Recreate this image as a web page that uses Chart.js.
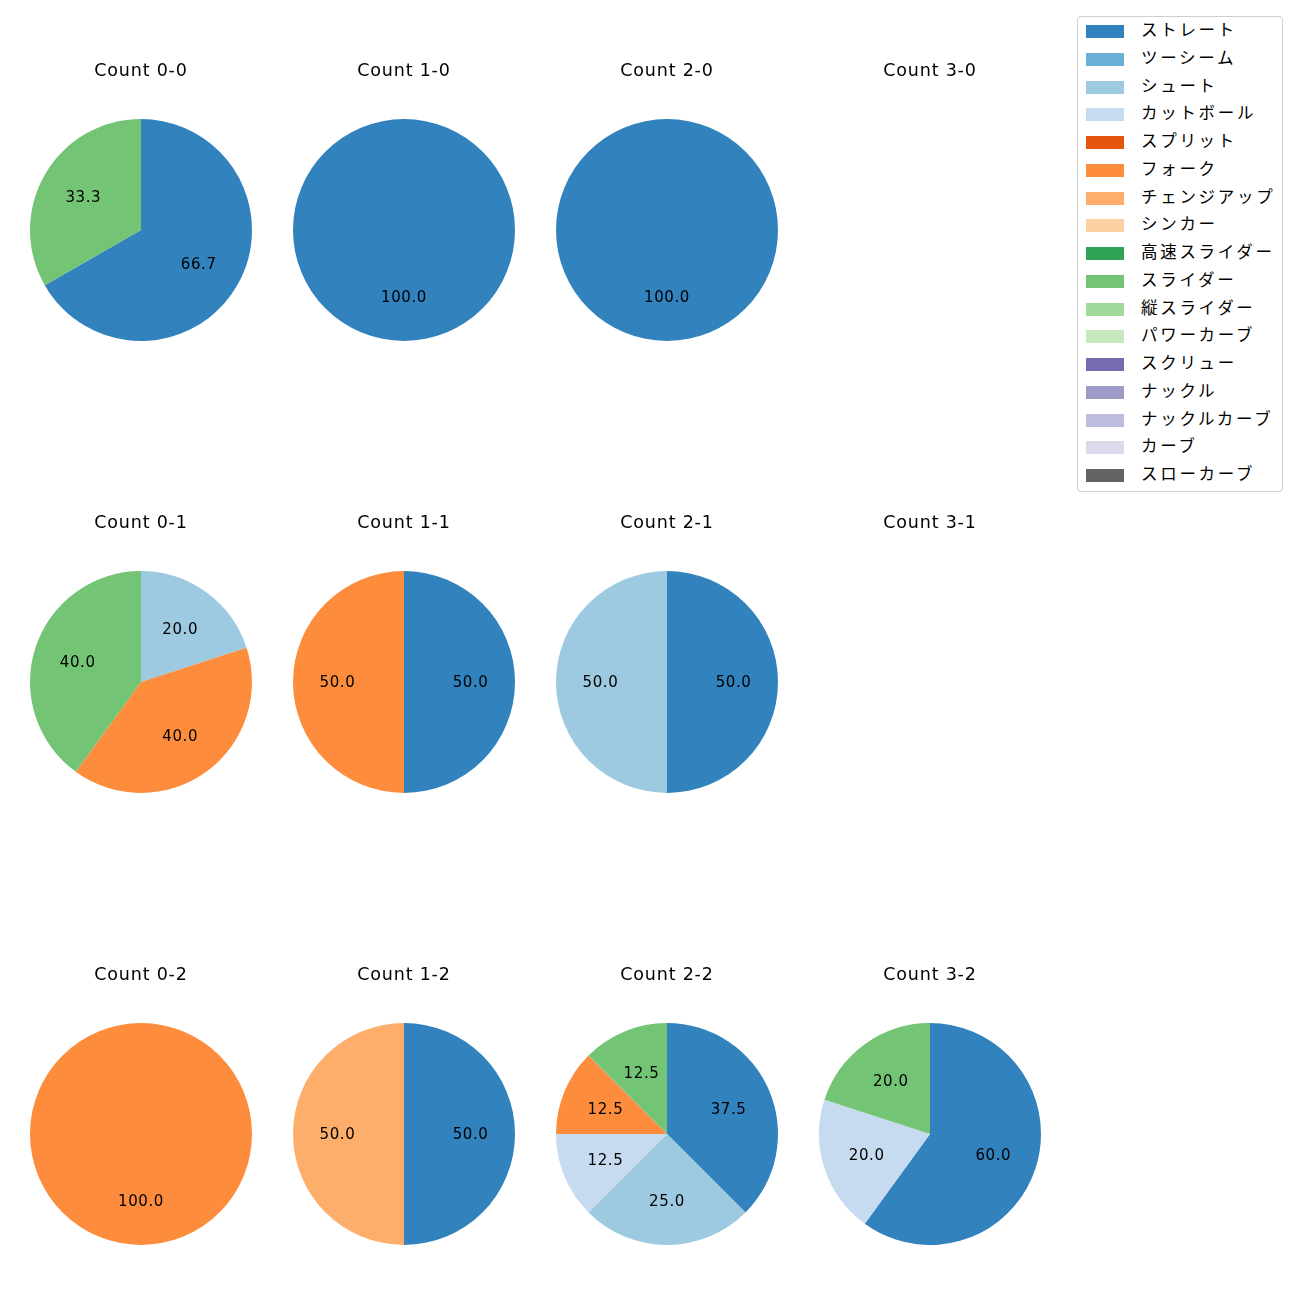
<!DOCTYPE html>
<html>
<head>
<meta charset="utf-8">
<script src="https://cdn.jsdelivr.net/npm/chart.js@4/dist/chart.umd.min.js"></script>
<style>
    body { margin: 0; background: #fff; width: 1300px; height: 1300px; position: relative; font-family: "Noto Sans CJK JP", "Noto Sans", sans-serif; }
    canvas.pie { position: absolute; }
    #legend { position: absolute; left: 1077px; top: 16px; width: 204px; height: 474px; border: 1px solid #d0d0d0; border-radius: 4px; background: #fff; }
    .item { position: absolute; left: 0; height: 20px; font-size: 16.5px; letter-spacing: 2.7px; color: #000; white-space: nowrap; }
    .swatch { position: absolute; left: 8px; top: 4px; width: 38px; height: 13px; }
    .name { position: absolute; left: 63px; top: -2px; line-height: 20px; }
</style>
</head>
<body>
<div id="legend"></div>
<script>
const pitchTypes = ["ストレート", "ツーシーム", "シュート", "カットボール", "スプリット", "フォーク", "チェンジアップ", "シンカー", "高速スライダー", "スライダー", "縦スライダー", "パワーカーブ", "スクリュー", "ナックル", "ナックルカーブ", "カーブ", "スローカーブ"];
const pitchColors = ["#3182bd", "#6baed6", "#9ecae1", "#c6dbef", "#e6550d", "#fd8d3c", "#fdae6b", "#fdd0a2", "#31a354", "#74c476", "#a1d99b", "#c7e9c0", "#756bb1", "#9e9ac8", "#bcbddc", "#dadaeb", "#636363"];

// percentages per count, pitch types in legend order
const count00Labels = ["ストレート", "スライダー"];
const count00Values = [66.7, 33.3];
const count10Labels = ["ストレート"];
const count10Values = [100.0];
const count20Labels = ["ストレート"];
const count20Values = [100.0];
const count30Labels = [];
const count30Values = [];
const count01Labels = ["シュート", "フォーク", "スライダー"];
const count01Values = [20.0, 40.0, 40.0];
const count11Labels = ["ストレート", "フォーク"];
const count11Values = [50.0, 50.0];
const count21Labels = ["ストレート", "シュート"];
const count21Values = [50.0, 50.0];
const count31Labels = [];
const count31Values = [];
const count02Labels = ["フォーク"];
const count02Values = [100.0];
const count12Labels = ["ストレート", "チェンジアップ"];
const count12Values = [50.0, 50.0];
const count22Labels = ["ストレート", "シュート", "カットボール", "フォーク", "スライダー"];
const count22Values = [37.5, 25.0, 12.5, 12.5, 12.5];
const count32Labels = ["ストレート", "カットボール", "スライダー"];
const count32Values = [60.0, 20.0, 20.0];

const counts = [
    ["Count 0-0", count00Labels, count00Values], ["Count 1-0", count10Labels, count10Values],
    ["Count 2-0", count20Labels, count20Values], ["Count 3-0", count30Labels, count30Values],
    ["Count 0-1", count01Labels, count01Values], ["Count 1-1", count11Labels, count11Values],
    ["Count 2-1", count21Labels, count21Values], ["Count 3-1", count31Labels, count31Values],
    ["Count 0-2", count02Labels, count02Values], ["Count 1-2", count12Labels, count12Values],
    ["Count 2-2", count22Labels, count22Values], ["Count 3-2", count32Labels, count32Values]
];

const colCenters = [141, 404, 667, 930];
const rowTops = [50, 502, 954];

// wider glyph spacing for the title text
const spacing = {
    id: "spacing",
    beforeDraw(chart) {
        chart.ctx.letterSpacing = "0.8px";
    }
};

// draws the percentage inside each slice, like matplotlib autopct
const pctLabels = {
    id: "pctLabels",
    afterDatasetsDraw(chart) {
        const ctx = chart.ctx;
        const meta = chart.getDatasetMeta(0);
        ctx.save();
        ctx.fillStyle = "#000";
        ctx.letterSpacing = "0.6px";
        ctx.font = "15px 'DejaVu Sans', sans-serif";
        ctx.textAlign = "center";
        ctx.textBaseline = "middle";
        meta.data.forEach((arc, i) => {
            const mid = (arc.startAngle + arc.endAngle) / 2;
            const r = arc.outerRadius * 0.6;
            const x = arc.x + Math.cos(mid) * r;
            const y = arc.y + Math.sin(mid) * r + 1.5;
            ctx.fillText(chart.data.datasets[0].data[i].toFixed(1), x, y);
        });
        ctx.restore();
    }
};

counts.forEach(([title, labels, values], idx) => {
    const canvas = document.createElement("canvas");
    canvas.className = "pie";
    canvas.width = 262;
    canvas.height = 291;
    canvas.style.left = (colCenters[idx % 4] - 131) + "px";
    canvas.style.top = rowTops[Math.floor(idx / 4)] + "px";
    canvas.style.width = "262px";
    canvas.style.height = "291px";
    document.body.appendChild(canvas);

    new Chart(canvas, {
        type: "pie",
        data: {
            labels: labels,
            datasets: [{
                data: values,
                backgroundColor: labels.map(l => pitchColors[pitchTypes.indexOf(l)]),
                borderWidth: 0,
                hoverOffset: 0
            }]
        },
        options: {
            responsive: false,
            animation: false,
            layout: { padding: 0 },
            plugins: {
                legend: { display: false },
                tooltip: { enabled: false },
                title: {
                    display: true,
                    text: title,
                    color: "#000",
                    font: { size: 17.5, weight: "normal", family: "'DejaVu Sans', sans-serif", lineHeight: 1.2 },
                    padding: { top: 10.5, bottom: 37.5 }
                }
            }
        },
        plugins: [spacing, pctLabels]
    });
});

const legend = document.getElementById("legend");
pitchTypes.forEach((name, i) => {
    const item = document.createElement("div");
    item.className = "item";
    item.style.top = (4 + i * 27.75) + "px";
    item.style.width = "200px";
    item.innerHTML = '<span class="swatch" style="background:' + pitchColors[i] + '"></span><span class="name">' + name + '</span>';
    legend.appendChild(item);
});
</script>
</body>
</html>
